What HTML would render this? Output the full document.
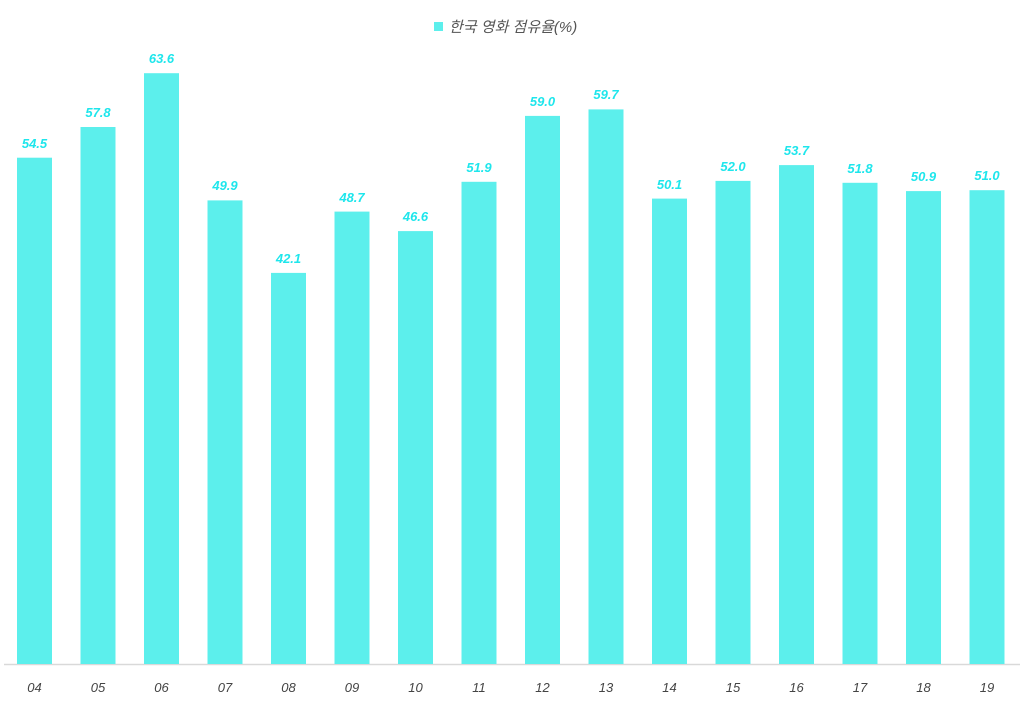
<!DOCTYPE html>
<html><head><meta charset="utf-8"><style>
html,body{margin:0;padding:0;background:#fff;}
</style></head><body>
<svg width="1024" height="710" xmlns="http://www.w3.org/2000/svg" font-family="Liberation Sans, sans-serif">
<rect x="434" y="22" width="9" height="9" fill="#5cefec"/>
<text x="449" y="32" font-size="15" font-style="italic" fill="#555" font-family="Liberation Sans, Noto Sans CJK KR, sans-serif">한국 영화 점유율(%)</text>
<line x1="4" y1="664.5" x2="1020" y2="664.5" stroke="#d9d9d9" stroke-width="1.5"/>
<g fill="#5cefec">
<rect x="17" y="157.7" width="35" height="506.3"/>
<rect x="80.5" y="127" width="35" height="537"/>
<rect x="144" y="73.2" width="35" height="590.8"/>
<rect x="207.5" y="200.4" width="35" height="463.6"/>
<rect x="271" y="272.9" width="35" height="391.1"/>
<rect x="334.5" y="211.6" width="35" height="452.4"/>
<rect x="398" y="231.1" width="35" height="432.9"/>
<rect x="461.5" y="181.8" width="35" height="482.2"/>
<rect x="525" y="115.9" width="35" height="548.1"/>
<rect x="588.5" y="109.4" width="35" height="554.6"/>
<rect x="652" y="198.6" width="35" height="465.4"/>
<rect x="715.5" y="180.9" width="35" height="483.1"/>
<rect x="779" y="165.1" width="35" height="498.9"/>
<rect x="842.5" y="182.8" width="35" height="481.2"/>
<rect x="906" y="191.1" width="35" height="472.9"/>
<rect x="969.5" y="190.2" width="35" height="473.8"/>
</g>
<g font-size="13" font-weight="bold" font-style="italic" fill="#1ee6ec" text-anchor="middle">
<text x="34.5" y="148">54.5</text>
<text x="98" y="117">57.8</text>
<text x="161.5" y="63">63.6</text>
<text x="225" y="190">49.9</text>
<text x="288.5" y="263">42.1</text>
<text x="352" y="202">48.7</text>
<text x="415.5" y="221">46.6</text>
<text x="479" y="172">51.9</text>
<text x="542.5" y="106">59.0</text>
<text x="606" y="99">59.7</text>
<text x="669.5" y="189">50.1</text>
<text x="733" y="171">52.0</text>
<text x="796.5" y="155">53.7</text>
<text x="860" y="173">51.8</text>
<text x="923.5" y="181">50.9</text>
<text x="987" y="180">51.0</text>
</g>
<g font-size="13" font-style="italic" fill="#444" text-anchor="middle">
<text x="34.5" y="692">04</text>
<text x="98" y="692">05</text>
<text x="161.5" y="692">06</text>
<text x="225" y="692">07</text>
<text x="288.5" y="692">08</text>
<text x="352" y="692">09</text>
<text x="415.5" y="692">10</text>
<text x="479" y="692">11</text>
<text x="542.5" y="692">12</text>
<text x="606" y="692">13</text>
<text x="669.5" y="692">14</text>
<text x="733" y="692">15</text>
<text x="796.5" y="692">16</text>
<text x="860" y="692">17</text>
<text x="923.5" y="692">18</text>
<text x="987" y="692">19</text>
</g>
</svg>
</body></html>
